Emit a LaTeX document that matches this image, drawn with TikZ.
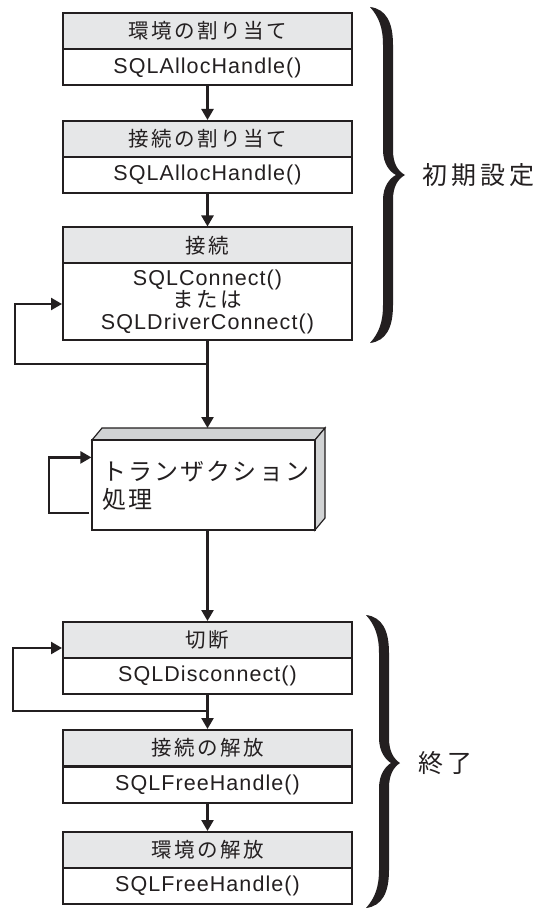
\documentclass[tikz,border=0pt]{standalone}
\usepackage{fontspec}
\setmainfont{Liberation Sans}[LetterSpace=5]
\newfontfamily\jp{Noto Sans CJK JP}[LetterSpace=12]
\newfontfamily\jpbig{Noto Sans CJK JP}[LetterSpace=9]
\newfontfamily\jplab{Noto Sans CJK JP}[LetterSpace=17]
\usetikzlibrary{arrows.meta,calc}
\definecolor{ink}{HTML}{231F20}
\definecolor{hdr}{HTML}{E6E7E8}
\definecolor{side}{HTML}{D1D3D4}
\begin{document}
\begin{tikzpicture}[x=1pt,y=-1pt,
  hbox/.style={draw=ink,line width=2pt,fill=hdr,minimum width=289pt,minimum height=36pt,inner sep=0pt,font=\jp\fontsize{20.5}{22}\selectfont,text=ink},
  bbox/.style={draw=ink,line width=2pt,fill=white,minimum width=289pt,minimum height=36pt,inner sep=0pt,font=\fontsize{21.5}{22}\selectfont,text=ink,align=center},
  conn/.style={draw=ink,line width=2.4pt},
  arr/.style={conn,-{Triangle[width=12pt,length=11pt]}},
  face/.style={draw=ink,line width=1.2pt,fill=side,line join=miter},
  lab/.style={anchor=west,inner sep=0pt,text=ink,font=\jplab\fontsize{25}{28}\selectfont}
]
\fill[white] (0,0) rectangle (539,909);
\useasboundingbox (0,0) rectangle (539,909);

% initial setup boxes
\node[hbox] (h1) at (207.5,31) {環境の割り当て};
\node[bbox] (b1) at (207.5,67.5) {SQLAllocHandle()};
\node[hbox] (h2) at (207.5,139) {接続の割り当て};
\node[bbox] (b2) at (207.5,175) {SQLAllocHandle()};
\node[hbox] (h3) at (207.5,245.5) {接続};
\node[bbox,minimum height=77pt] (b3) at (207.5,301.5) {SQLConnect()\\{\jp または}\\SQLDriverConnect()};

% transaction 3D box
\draw[face] (92,440) -- (102,428) -- (325,428) -- (315,440) -- cycle;
\draw[face] (315,440) -- (325,428) -- (325,518) -- (315,530) -- cycle;
\node[draw=ink,line width=1.2pt,fill=white,minimum width=223pt,minimum height=90pt,inner sep=0pt] (tr) at (203.5,485) {};
\node[anchor=west,align=left,inner sep=0pt,text=ink,font=\jpbig\fontsize{24}{28}\selectfont] (trt) at (102,486) {トランザクション\\処理};

% termination boxes
\node[hbox] (h4) at (207.5,640) {切断};
\node[bbox] (b4) at (207.5,675.5) {SQLDisconnect()};
\node[hbox] (h5) at (207.5,748) {接続の解放};
\node[bbox] (b5) at (207.5,784.5) {SQLFreeHandle()};
\node[hbox] (h6) at (207.5,850) {環境の解放};
\node[bbox] (b6) at (207.5,885.5) {SQLFreeHandle()};

% connectors
\draw[arr] (b1.south) -- (h2.north);
\draw[arr] (b2.south) -- (h3.north);
\coordinate (ttop) at (207.5,428);
\draw[arr] (b3.south) -- (ttop);
\coordinate (j1) at (207.5,364);
\coordinate (l1) at (15,364);
\coordinate (e1) at ($(b3.west)+(0,2.5)$);
\draw[arr] (j1) -- (l1) |- (e1);

\coordinate (t1) at (89,513);
\coordinate (t2) at (49,513);
\coordinate (t3) at ($(tr.north west)+(0,18)$);
\draw[arr] (t1) -- (t2) |- (t3);

\draw[arr] (tr.south -| h4.north) -- (h4.north);
\coordinate (j2) at (207.5,711);
\coordinate (l2) at (13,711);
\coordinate (e2) at ($(h4.west)+(0,8)$);
\draw[arr] (j2) -- (l2) |- (e2);
\draw[arr] (b4.south) -- (h5.north);
\draw[arr] (b5.south) -- (h6.north);

% braces
\fill[ink] (370,7) .. controls (386,9) and (393,22) .. (393,45) -- (393,150)
  .. controls (393,164) and (398,171) .. (405,175)
  .. controls (398,179) and (393,186) .. (393,200) -- (393,305)
  .. controls (393,328) and (386,341) .. (370,343)
  .. controls (379,333) and (383,322) .. (383,305) -- (383,200)
  .. controls (383,186) and (390,178) .. (396,175)
  .. controls (390,172) and (383,164) .. (383,150) -- (383,45)
  .. controls (383,28) and (379,17) .. (370,7) -- cycle;
\fill[ink] (366,615) .. controls (382,617) and (389,630) .. (389,653) -- (389,738)
  .. controls (389,752) and (394,759) .. (400,763)
  .. controls (394,767) and (389,774) .. (389,788) -- (389,870)
  .. controls (389,893) and (382,906) .. (366,908)
  .. controls (375,898) and (379,887) .. (379,870) -- (379,788)
  .. controls (379,774) and (386,766) .. (391,763)
  .. controls (386,760) and (379,752) .. (379,738) -- (379,653)
  .. controls (379,636) and (375,625) .. (366,615) -- cycle;

\node[lab] (init) at (422,175) {初期設定};
\node[lab] (fin) at (418,763) {終了};
\end{tikzpicture}
\end{document}
